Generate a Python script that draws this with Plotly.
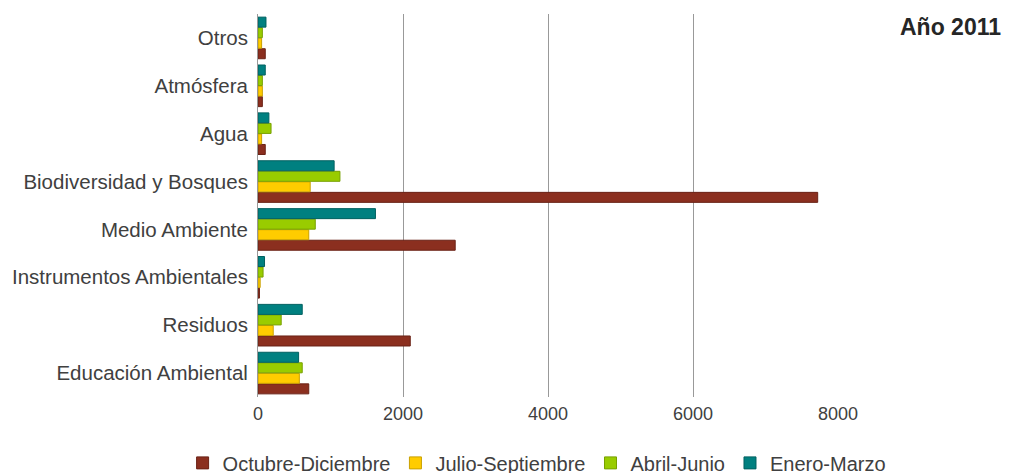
import plotly.graph_objects as go

categories = ["Educación Ambiental", "Residuos", "Instrumentos Ambientales", "Medio Ambiente",
              "Biodiversidad y Bosques", "Agua", "Atmósfera", "Otros"]
series_names = ["Octubre-Diciembre", "Julio-Septiembre", "Abril-Junio", "Enero-Marzo"]
oct_dic = [700, 2100, 20, 2720, 7720, 100, 60, 100]
jul_sep = [570, 210, 30, 700, 720, 50, 60, 50]
abr_jun = [610, 320, 70, 790, 1130, 180, 60, 60]
ene_mar = [560, 610, 90, 1620, 1050, 150, 100, 110]
x_ticks = [0, 2000, 4000, 6000, 8000]

colors = ["#8B2F1F", "#FFCC00", "#99CC00", "#008080"]
edges = ["#6A2216", "#C9A000", "#77A000", "#006060"]
values = [oct_dic, jul_sep, abr_jun, ene_mar]

fig = go.Figure()
for name, vals, c, e in zip(series_names, values, colors, edges):
    fig.add_trace(go.Bar(y=categories, x=vals, name=name, orientation="h",
                         marker=dict(color=c, line=dict(color=e, width=1))))

font = "Liberation Sans, Arial, sans-serif"
fig.update_layout(
    width=1013, height=473,
    barmode="group", bargap=0.12, bargroupgap=0.05,
    plot_bgcolor="white", paper_bgcolor="white",
    margin=dict(l=250, r=183, t=6, b=84, autoexpand=False),
    font=dict(family=font, size=20.5, color="#404040"),
    xaxis=dict(range=[0, 8000], tickvals=x_ticks, showgrid=True, gridcolor="#999999",
               gridwidth=1, zeroline=False, showline=False, tickfont=dict(size=18),
               ticks="", fixedrange=True, automargin=False, ticklabelstandoff=4),
    yaxis=dict(showline=True, linecolor="#999999", linewidth=1, ticks="",
               tickfont=dict(size=20.5), categoryorder="array",
               categoryarray=categories, automargin=False, ticklabelstandoff=5),
    legend=dict(orientation="h", x=-0.13, xanchor="left", y=-0.172, yanchor="middle",
                font=dict(size=20), traceorder="normal", itemwidth=30),
    showlegend=True,
)
fig.add_annotation(text="<b>Año 2011</b>", xref="paper", yref="paper", x=1.284, y=0.966,
                   xanchor="right", yanchor="middle", showarrow=False,
                   font=dict(size=23, color="#262626", family=font))
fig.write_html("out.html")
